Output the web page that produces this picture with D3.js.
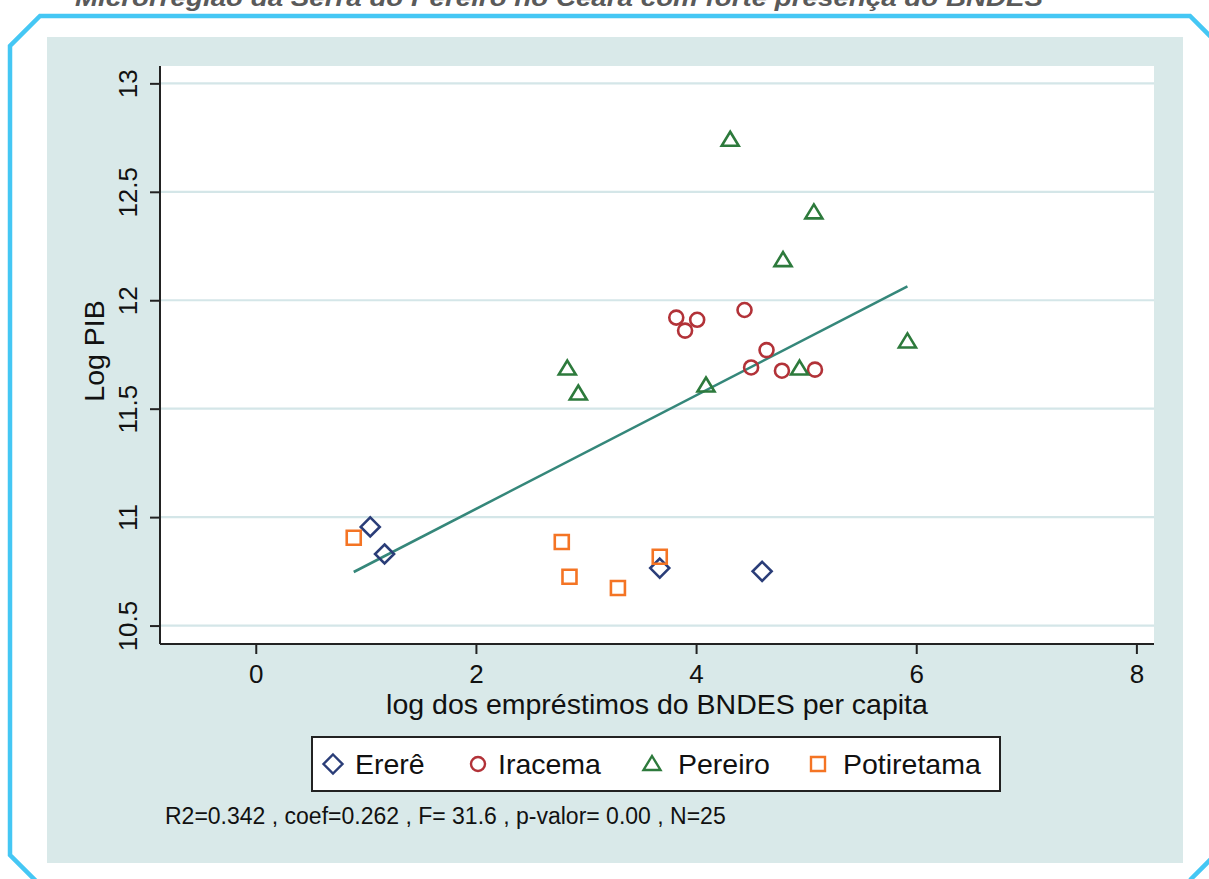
<!DOCTYPE html>
<html>
<head>
<meta charset="utf-8">
<script src="https://cdn.jsdelivr.net/npm/d3@7"></script>
<style>
  html, body { margin: 0; padding: 0; background: #ffffff; }
  svg { display: block; }
  text { font-family: "Liberation Sans", Arial, Helvetica, sans-serif; }
</style>
</head>
<body>
<script>
// ---------------- DATA ----------------
const titleText = "Microrregião da Serra do Pereiro no Ceará com forte presença do BNDES";
const xLabel = "log dos empréstimos do BNDES per capita";
const yLabel = "Log PIB";
const footnote = "R2=0.342 , coef=0.262 , F= 31.6 , p-valor= 0.00 , N=25";

const xTicks = [0, 2, 4, 6, 8];
const xTickLabels = ["0", "2", "4", "6", "8"];
const yTicks = [10.5, 11, 11.5, 12, 12.5, 13];
const yTickLabels = ["10.5", "11", "11.5", "12", "12.5", "13"];

const seriesNames = ["Ererê", "Iracema", "Pereiro", "Potiretama"];

const erereX = [1.04, 1.17, 3.67, 4.60];
const erereY = [10.955, 10.83, 10.765, 10.75];

const iracemaX = [3.82, 4.01, 3.90, 4.44, 4.64, 4.50, 4.78, 5.08];
const iracemaY = [11.92, 11.91, 11.86, 11.955, 11.77, 11.69, 11.675, 11.68];

const pereiroX = [4.31, 5.07, 4.79, 5.92, 2.83, 2.93, 4.09, 4.94];
const pereiroY = [12.74, 12.405, 12.185, 11.81, 11.685, 11.57, 11.607, 11.685];

const potiretamaX = [0.89, 2.78, 2.85, 3.29, 3.67];
const potiretamaY = [10.905, 10.885, 10.725, 10.673, 10.817];

// fitted regression line (end points)
const fitX = [0.89, 5.92];
const fitY = [10.747, 12.064];

// ---------------- DRAWING ----------------
(function () {
const W = 1209, H = 879;
const svg = d3.select("body").append("svg").attr("width", W).attr("height", H);

// title (partly cut at the top, as in the source page)
svg.append("text")
  .attr("x", 75).attr("y", 6)
  .attr("textLength", 968).attr("lengthAdjust", "spacingAndGlyphs")
  .style("font-size", "24px").style("font-weight", "bold").style("font-style", "italic")
  .style("fill", "#5a5a5a")
  .text(titleText);

// cyan chamfered frame
svg.append("path")
  .attr("d", "M1240,66 L1190,16 L40,16 L10,46 L10,855 L36,881 M1240,830 L1190,880")
  .attr("fill", "none").attr("stroke", "#45c7f4").attr("stroke-width", 4.5)
  .attr("stroke-linejoin", "miter");

// panel background
svg.append("rect").attr("x", 47).attr("y", 37).attr("width", 1136).attr("height", 826)
  .attr("fill", "#d9e9e9");

const pL = 160, pR = 1154, pT = 66, pB = 644;
const x = d3.scaleLinear().domain([-0.87, 8.16]).range([pL, pR]);
const y = d3.scaleLinear().domain([10.415, 13.08]).range([pB, pT]);

// plot area
svg.append("rect").attr("x", pL).attr("y", pT).attr("width", pR - pL).attr("height", pB - pT)
  .attr("fill", "#ffffff");

// grid lines
svg.append("g").selectAll("line").data(yTicks).join("line")
  .attr("x1", pL).attr("x2", pR)
  .attr("y1", d => y(d)).attr("y2", d => y(d))
  .attr("stroke", "#d4e6e8").attr("stroke-width", 2.2);

// axes
const yAxis = d3.axisLeft(y).tickValues(yTicks).tickSize(10).tickPadding(12)
  .tickFormat((d, i) => yTickLabels[i]);
const gy = svg.append("g").attr("transform", `translate(${pL},0)`).call(yAxis);
gy.select(".domain").attr("d", `M0,${pT}V${pB}`).attr("stroke", "#222").attr("stroke-width", 2);
gy.selectAll(".tick line").attr("stroke", "#222").attr("stroke-width", 2);
gy.selectAll(".tick text")
  .attr("x", null).attr("dy", null)
  .attr("transform", "translate(-23,0) rotate(-90)")
  .attr("text-anchor", "middle")
  .style("font-size", "26px").style("fill", "#111")
  .style("font-family", "'Liberation Sans', Arial, sans-serif");

const xAxis = d3.axisBottom(x).tickValues(xTicks).tickSize(10).tickPadding(4)
  .tickFormat((d, i) => xTickLabels[i]);
const gx = svg.append("g").attr("transform", `translate(0,${pB})`).call(xAxis);
gx.select(".domain").attr("d", `M${pL},0H${pR}`).attr("stroke", "#222").attr("stroke-width", 2);
gx.selectAll(".tick line").attr("stroke", "#222").attr("stroke-width", 2);
gx.selectAll(".tick text")
  .attr("dy", null).attr("y", 39)
  .style("font-size", "26px").style("fill", "#111")
  .style("font-family", "'Liberation Sans', Arial, sans-serif");

// axis titles
svg.append("text").attr("x", (pL + pR) / 2).attr("y", 714)
  .attr("text-anchor", "middle").style("font-size", "28.5px").style("fill", "#111")
  .text(xLabel);
svg.append("text").attr("transform", `translate(104,${(pT + pB) / 2 - 4}) rotate(-90)`)
  .attr("text-anchor", "middle").style("font-size", "28.5px").style("fill", "#111")
  .text(yLabel);

// fit line
svg.append("path")
  .datum(fitX.map((v, i) => [v, fitY[i]]))
  .attr("d", d3.line().x(d => x(d[0])).y(d => y(d[1])))
  .attr("fill", "none").attr("stroke", "#35877a").attr("stroke-width", 2.6);

// marker shapes
const shapes = {
  diamond: "M0,-9.5L9.5,0L0,9.5L-9.5,0Z",
  circle: "M7,0A7,7 0 1,1 -7,0A7,7 0 1,1 7,0Z",
  triangle: "M0,-8L8.5,6L-8.5,6Z",
  square: "M-7,-7H7V7H-7Z"
};
const series = [
  { xs: erereX, ys: erereY, shape: "diamond", color: "#2a3d78" },
  { xs: iracemaX, ys: iracemaY, shape: "circle", color: "#b23238" },
  { xs: pereiroX, ys: pereiroY, shape: "triangle", color: "#2d7a3c" },
  { xs: potiretamaX, ys: potiretamaY, shape: "square", color: "#f47424" }
];
series.forEach(s => {
  svg.append("g").selectAll("path").data(s.xs.map((v, i) => [v, s.ys[i]])).join("path")
    .attr("transform", d => `translate(${x(d[0])},${y(d[1])})`)
    .attr("d", shapes[s.shape])
    .attr("fill", "none").attr("stroke", s.color).attr("stroke-width", 2.6);
});

// legend
const lg = svg.append("g");
lg.append("rect").attr("x", 312).attr("y", 737).attr("width", 688).attr("height", 54)
  .attr("fill", "#ffffff").attr("stroke", "#222").attr("stroke-width", 2);
const legSymX = [333, 478, 652, 818];
const legTxtX = [355, 498, 678, 843];
series.forEach((s, i) => {
  lg.append("path").attr("transform", `translate(${legSymX[i]},764)`)
    .attr("d", shapes[s.shape]).attr("fill", "none")
    .attr("stroke", s.color).attr("stroke-width", 2.4);
  lg.append("text").attr("x", legTxtX[i]).attr("y", 774)
    .style("font-size", "28.5px").style("fill", "#111").text(seriesNames[i]);
});

// footnote
svg.append("text").attr("x", 165).attr("y", 824)
  .style("font-size", "23px").style("fill", "#111").text(footnote);
})();
</script>
</body>
</html>
